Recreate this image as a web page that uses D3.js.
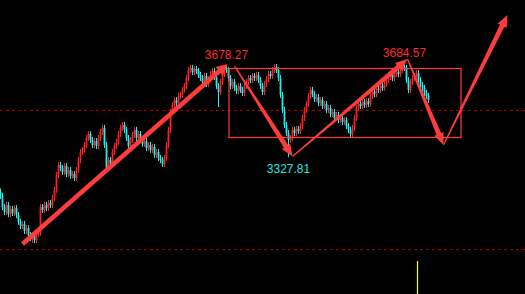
<!DOCTYPE html>
<html>
<head>
<meta charset="utf-8">
<script src="https://cdn.jsdelivr.net/npm/d3@7"></script>
<style>
  html, body { margin: 0; padding: 0; background: #000; overflow: hidden; }
  svg { display: block; }
</style>
</head>
<body>
<div id="chart"></div>
<script>
// daily closes (open = previous close)
const closes = [
  3178, 3135, 3116, 3143, 3108, 3128, 3112, 3131, 3104, 3078,
  3062, 3070, 3043, 3054, 3027, 3016, 3024, 3008, 3031, 3035,
  3135, 3124, 3143, 3131, 3151, 3143, 3170, 3201, 3258, 3297,
  3285, 3270, 3293, 3262, 3278, 3255, 3262, 3247, 3278, 3316,
  3347, 3355, 3374, 3401, 3416, 3393, 3374, 3389, 3370, 3401,
  3424, 3440, 3374, 3285, 3316, 3305, 3347, 3370, 3386, 3416,
  3440, 3451, 3432, 3401, 3370, 3393, 3413, 3432, 3401, 3416,
  3393, 3378, 3389, 3362, 3374, 3355, 3366, 3336, 3347, 3324,
  3316, 3301, 3324, 3374, 3432, 3501, 3528, 3547, 3536, 3563,
  3567, 3586, 3601, 3632, 3663, 3671, 3655, 3667, 3659, 3644,
  3632, 3617, 3640, 3609, 3628, 3647, 3659, 3636, 3601, 3578,
  3617, 3647, 3671, 3663, 3632, 3601, 3617, 3594, 3582, 3601,
  3586, 3574, 3601, 3617, 3632, 3624, 3640, 3632, 3644, 3624,
  3601, 3578, 3609, 3628, 3647, 3640, 3663, 3674, 3663, 3632,
  3567, 3509, 3451, 3420, 3393, 3401, 3432, 3420, 3436, 3428,
  3447, 3478, 3509, 3532, 3563, 3586, 3570, 3551, 3559, 3536,
  3547, 3524, 3532, 3509, 3517, 3493, 3501, 3478, 3490, 3470,
  3478, 3463, 3470, 3447, 3432, 3416, 3440, 3478, 3517, 3532,
  3524, 3540, 3528, 3543, 3532, 3563, 3578, 3570, 3590, 3586,
  3601, 3594, 3609, 3624, 3636, 3644, 3632, 3647, 3655, 3647,
  3663, 3674, 3671, 3624, 3586, 3617, 3632, 3640, 3651, 3624,
  3605, 3594, 3574, 3563, 3547
];
const firstOpen = 3195;

// long shadows [index, price]
const wickHighs = [[113, 3678.27], [202, 3684.57]];
const wickLows = [[16, 2997], [109, 3520], [144, 3327.81], [175, 3401]];

// marked extremes
const peakIdx = [113, 202];
const troughIdx = [144];

// hand-drawn analysis: first rally arrow, then the zigzag [index, price]
const riseArrow = [[11, 2993], [113.5, 3686]];
const zigzag = [[117, 3678], [146, 3330], [203.5, 3705], [221.5, 3374], [253.5, 3875]];

// consolidation box [index, price]
const boxFrom = [114.25, 3668.6];
const boxTo = [230.25, 3402.9];

// dashed reference levels
const levels = [3507, 2975];

const markerIndex = 208.25;

const width = 525, height = 294;
const upColor = '#ff2020', downColor = '#20f0f0';
const arrowColor = '#ff3c3c';

const svg = d3.select('#chart').append('svg')
  .attr('width', width)
  .attr('height', height)
  .style('background', '#000');

const x = d3.scaleLinear().domain([0, closes.length - 1]).range([0.5, 428.5]);
const y = d3.scaleLinear().domain([3327.81, 3678.27]).range([157, 66]);

// reference levels
svg.selectAll('.level')
  .data(levels)
  .join('line')
  .attr('class', 'level')
  .attr('x1', 0).attr('x2', width)
  .attr('y1', d => Math.round(y(d)) + 0.5)
  .attr('y2', d => Math.round(y(d)) + 0.5)
  .attr('stroke', '#a80000')
  .attr('stroke-width', 1)
  .attr('stroke-dasharray', '3,3');

// candles
const hiMap = new Map(wickHighs), loMap = new Map(wickLows);
const candles = closes.map((c, i) => {
  const o = i === 0 ? firstOpen : closes[i - 1];
  return {i, o, c, hi: hiMap.get(i), lo: loMap.get(i)};
});

const g = svg.append('g').attr('class', 'candles');
candles.forEach(d => {
  const col = d.c >= d.o ? upColor : downColor;
  const yTop = y(Math.max(d.o, d.c)), yBot = y(Math.min(d.o, d.c));
  const wTop = d.hi !== undefined ? y(d.hi) : yTop - 3;
  const wBot = d.lo !== undefined ? y(d.lo) : yBot + 3;
  g.append('line')
    .attr('x1', x(d.i)).attr('x2', x(d.i))
    .attr('y1', wTop).attr('y2', wBot)
    .attr('stroke', col).attr('stroke-width', 1);
  g.append('rect')
    .attr('x', x(d.i) - 0.9)
    .attr('y', yTop)
    .attr('width', 1.8)
    .attr('height', Math.max(1, yBot - yTop))
    .attr('fill', col);
});

// box
svg.append('rect')
  .attr('x', x(boxFrom[0]))
  .attr('y', y(boxFrom[1]))
  .attr('width', x(boxTo[0]) - x(boxFrom[0]))
  .attr('height', y(boxTo[1]) - y(boxFrom[1]))
  .attr('fill', 'none')
  .attr('stroke', arrowColor)
  .attr('stroke-width', 1.2);

// arrow as a tapered polygon
function arrowPath(a, b, tail, shaft, headLen, headW) {
  const [x0, y0] = [x(a[0]), y(a[1])], [x1, y1] = [x(b[0]), y(b[1])];
  const len = Math.hypot(x1 - x0, y1 - y0);
  const ux = (x1 - x0) / len, uy = (y1 - y0) / len;
  const nx = -uy, ny = ux;
  const bx = x1 - ux * headLen, by = y1 - uy * headLen;
  const pts = [
    [x0 + nx * tail / 2, y0 + ny * tail / 2],
    [bx + nx * shaft / 2, by + ny * shaft / 2],
    [bx + nx * headW / 2, by + ny * headW / 2],
    [x1, y1],
    [bx - nx * headW / 2, by - ny * headW / 2],
    [bx - nx * shaft / 2, by - ny * shaft / 2],
    [x0 - nx * tail / 2, y0 - ny * tail / 2]
  ];
  return 'M' + pts.map(p => p.join(',')).join('L') + 'Z';
}

svg.append('path')
  .attr('d', arrowPath(riseArrow[0], riseArrow[1], 4.5, 4.5, 11, 11))
  .attr('fill', arrowColor);

svg.selectAll('.zig')
  .data(d3.pairs(zigzag))
  .join('path')
  .attr('class', 'zig')
  .attr('d', d => arrowPath(d[0], d[1], 1.2, 5, 12, 10))
  .attr('fill', arrowColor);

// price labels
const labelFont = '"Liberation Sans", Arial, sans-serif';
svg.selectAll('.peak-label')
  .data(peakIdx)
  .join('text')
  .attr('class', 'peak-label')
  .attr('x', i => x(i))
  .attr('y', i => y(hiMap.get(i)) - 7.5)
  .attr('text-anchor', 'middle')
  .attr('font-family', labelFont)
  .attr('font-size', 12)
  .attr('fill', '#ff2828')
  .text(i => hiMap.get(i).toFixed(2));

svg.selectAll('.trough-label')
  .data(troughIdx)
  .join('text')
  .attr('class', 'trough-label')
  .attr('x', i => x(i))
  .attr('y', i => y(loMap.get(i)) + 15.5)
  .attr('text-anchor', 'middle')
  .attr('font-family', labelFont)
  .attr('font-size', 12)
  .attr('fill', '#20e8e8')
  .text(i => loMap.get(i).toFixed(2));

// yellow cursor mark at the bottom
svg.append('line')
  .attr('x1', Math.round(x(markerIndex)) + 0.5)
  .attr('x2', Math.round(x(markerIndex)) + 0.5)
  .attr('y1', 261).attr('y2', height)
  .attr('stroke', '#ffff00')
  .attr('stroke-width', 1.2);
</script>
</body>
</html>
